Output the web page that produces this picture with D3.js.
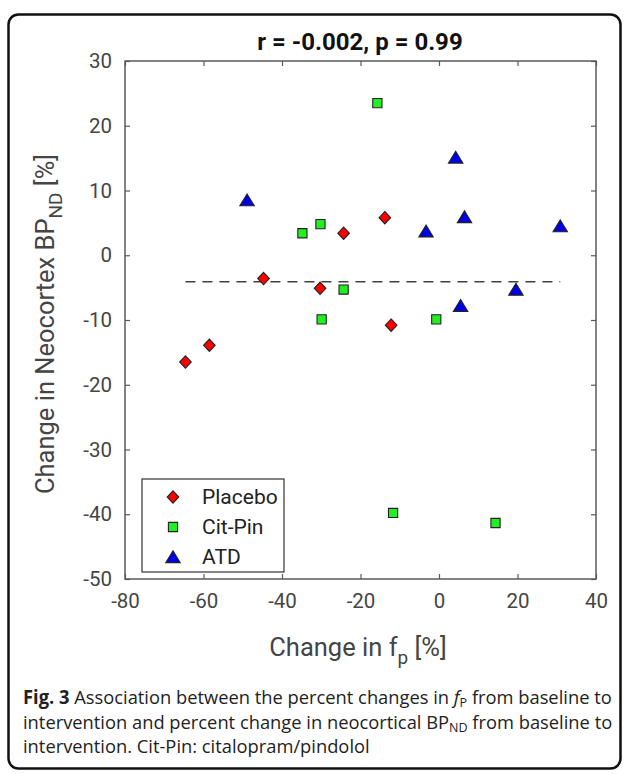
<!DOCTYPE html>
<html><head><meta charset="utf-8">
<script src="https://cdn.jsdelivr.net/npm/d3@7"></script>
<style>body{margin:0;background:#fff}svg{display:block}</style>
</head><body>
<script>
// ---- data ----
const placeboX = [-64.6, -58.5, -44.7, -30.3, -24.3, -13.8, -12.2];
const placeboY = [-16.5, -13.9, -3.6, -5.1, 3.4, 5.8, -10.8];
const citPinX = [-34.8, -30.2, -29.9, -24.3, -15.7, -11.7, -0.7, 14.4];
const citPinY = [3.4, 4.8, -9.9, -5.3, 23.5, -39.8, -9.9, -41.35];
const atdX = [-48.9, -3.3, 4.25, 5.5, 6.5, 19.6, 30.9];
const atdY = [8.5, 3.7, 15.1, -7.8, 5.9, -5.3, 4.5];
const refLineY = -4.1;
const xTicks = [-80, -60, -40, -20, 0, 20, 40];
const yTicks = [-50, -40, -30, -20, -10, 0, 10, 20, 30];
const groupNames = ["Placebo", "Cit-Pin", "ATD"];
const titleText = "r = -0.002, p = 0.99";

const W = 629, H = 774;
const svg = d3.select("body").append("svg").attr("width", W).attr("height", H);

// outer frame
svg.append("rect").attr("x", 8.5).attr("y", 14.5).attr("width", 612).attr("height", 754)
  .attr("rx", 10).attr("fill", "none").attr("stroke", "#111").attr("stroke-width", 2.5);

const L = 125, R = 596, T = 61, B = 579;
const x = d3.scaleLinear().domain([-80, 40]).range([L, R]);
const y = d3.scaleLinear().domain([-50, 30]).range([B, T]);
const axisCol = "#5a5a5a", textCol = "#454545";
const font = "Roboto, 'Liberation Sans', sans-serif";
const fmt = d => String(d);

const g = svg.append("g");
function styleAxis(sel, hideText) {
  sel.select(".domain").remove();
  sel.selectAll(".tick line").attr("stroke", axisCol).attr("stroke-width", 1.2);
  sel.selectAll(".tick text").attr("fill", textCol).attr("font-family", font).attr("font-size", 20.5);
  if (hideText) sel.selectAll(".tick text").remove();
}
g.append("g").attr("transform", `translate(0,${B})`)
  .call(d3.axisBottom(x).tickValues(xTicks).tickSizeInner(-5).tickSizeOuter(0).tickPadding(14).tickFormat(fmt))
  .call(s => styleAxis(s, false));
g.append("g").attr("transform", `translate(0,${T})`)
  .call(d3.axisTop(x).tickValues(xTicks).tickSizeInner(-5).tickSizeOuter(0))
  .call(s => styleAxis(s, true));
g.append("g").attr("transform", `translate(${L},0)`)
  .call(d3.axisLeft(y).tickValues(yTicks).tickSizeInner(-5).tickSizeOuter(0).tickPadding(13).tickFormat(fmt))
  .call(s => styleAxis(s, false));
g.append("g").attr("transform", `translate(${R},0)`)
  .call(d3.axisRight(y).tickValues(yTicks).tickSizeInner(-5).tickSizeOuter(0))
  .call(s => styleAxis(s, true));
g.append("rect").attr("x", L).attr("y", T).attr("width", R - L).attr("height", B - T)
  .attr("fill", "none").attr("stroke", axisCol).attr("stroke-width", 1.5);

// dashed reference line spanning data x-range
const allX = placeboX.concat(citPinX, atdX);
g.append("line").attr("x1", x(d3.min(allX))).attr("x2", x(d3.max(allX)))
  .attr("y1", y(refLineY)).attr("y2", y(refLineY))
  .attr("stroke", "#404040").attr("stroke-width", 1.6).attr("stroke-dasharray", "10,7");

// marker shapes
const shapes = {
  diamond: "M0,-6.2L5.8,0L0,6.2L-5.8,0Z",
  square: "M-4.6,-4.6H4.6V4.6H-4.6Z",
  triangle: "M0,-6.2L7.2,5.6H-7.2Z"
};
const groups = [
  {name: groupNames[0], xs: placeboX, ys: placeboY, shape: shapes.diamond, fill: "#ff0000"},
  {name: groupNames[1], xs: citPinX, ys: citPinY, shape: shapes.square, fill: "#22ee22"},
  {name: groupNames[2], xs: atdX, ys: atdY, shape: shapes.triangle, fill: "#0000e6"}
];
groups.forEach(gr => {
  g.selectAll(null).data(gr.xs.map((v, i) => [v, gr.ys[i]])).enter().append("path")
    .attr("d", gr.shape).attr("transform", d => `translate(${x(d[0])},${y(d[1])})`)
    .attr("fill", gr.fill).attr("stroke", "#222").attr("stroke-width", 1.1);
});

// legend
const lg = svg.append("g");
lg.append("rect").attr("x", 142).attr("y", 479).attr("width", 142).attr("height", 93)
  .attr("fill", "#fff").attr("stroke", "#333").attr("stroke-width", 1.2);
groups.forEach((gr, i) => {
  const yy = 497 + i * 30;
  lg.append("path").attr("d", gr.shape).attr("transform", `translate(173,${yy})`)
    .attr("fill", gr.fill).attr("stroke", "#222").attr("stroke-width", 1.1);
  lg.append("text").attr("x", 202).attr("y", yy + 7).text(gr.name)
    .attr("font-family", font).attr("font-size", 21).attr("fill", "#222");
});

// title
svg.append("text").attr("x", 360).attr("y", 50).attr("text-anchor", "middle")
  .attr("font-family", font).attr("font-weight", "bold").attr("font-size", 24).attr("fill", "#111")
  .text(titleText);

// x label
const xl = svg.append("text").attr("x", 358).attr("y", 656).attr("text-anchor", "middle")
  .attr("font-family", font).attr("font-size", 25.5).attr("fill", textCol);
xl.append("tspan").text("Change in f");
xl.append("tspan").attr("dy", 8).attr("font-size", 19).text("p");
xl.append("tspan").attr("dy", -8).text(" [%]");

// y label
const yl = svg.append("text").attr("transform", "translate(54,324) rotate(-90)").attr("text-anchor", "middle")
  .attr("font-family", font).attr("font-size", 25.5).attr("fill", textCol);
yl.append("tspan").text("Change in Neocortex BP");
yl.append("tspan").attr("dy", 8).attr("font-size", 19).text("ND");
yl.append("tspan").attr("dy", -8).text(" [%]");

// caption
const capFont = "'Open Sans', 'Noto Sans', sans-serif";
const cap = svg.append("g");
const l1 = cap.append("text").attr("x", 0).attr("y", 704);
l1.append("tspan").attr("font-weight", "bold").text("Fig. 3");
l1.append("tspan").text(" Association between the percent changes in ");
l1.append("tspan").attr("font-style", "italic").text("f");
l1.append("tspan").attr("font-size", 13).attr("dy", 3).text("P");
l1.append("tspan").attr("dy", -3).text(" from baseline to");
const l2 = cap.append("text").attr("x", 0).attr("y", 729);
l2.append("tspan").text("intervention and percent change in neocortical BP");
l2.append("tspan").attr("font-size", 13).attr("dy", 3).text("ND");
l2.append("tspan").attr("dy", -3).text(" from baseline to");
const l3 = cap.append("text").attr("x", 0).attr("y", 753);
l3.append("tspan").text("intervention. Cit-Pin: citalopram/pindolol");
cap.selectAll("text").attr("font-family", capFont).attr("font-size", 19).attr("fill", "#222");
const w1 = l1.node().getComputedTextLength();
const sx = (612 - 23) / w1;
cap.attr("transform", `translate(23,0) scale(${sx},1)`);
</script>
</body></html>
